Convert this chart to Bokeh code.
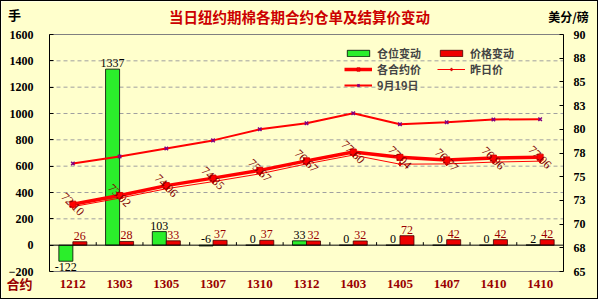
import numpy as np
from bokeh.plotting import figure
from bokeh.models import (Range1d, LinearAxis, FixedTicker, Label, Legend, LegendItem)
from bokeh.core.properties import value
from bokeh.embed import file_html
from bokeh.resources import INLINE

# ---------------- data ----------------
categories = ["1212", "1303", "1305", "1307", "1310", "1312", "1403", "1405", "1407", "1410", "1410"]
position_change = [-122, 1337, 103, -6, 0, 33, 0, 0, 0, 0, 2]
price_change = [26, 28, 33, 37, 37, 32, 32, 72, 42, 42, 42]
settle_today = [72.10, 73.02, 74.06, 74.85, 75.67, 76.67, 77.60, 77.04, 76.77, 76.96, 77.06]
settle_yesterday = [71.84, 72.74, 73.73, 74.48, 75.30, 76.35, 77.28, 76.32, 76.35, 76.54, 76.64]
settle_sep19 = [76.40, 77.13, 77.98, 78.83, 80.00, 80.64, 81.70, 80.53, 80.74, 81.04, 81.06]
left_ticks = [-200, 0, 200, 400, 600, 800, 1000, 1200, 1400, 1600]
right_ticks = [65, 67.5, 70, 72.5, 75, 77.5, 80, 82.5, 85, 87.5, 90]
right_tick_labels = ["65", "68", "70", "73", "75", "78", "80", "83", "85", "88", "90"]

title_text = "当日纽约期棉各期合约仓单及结算价变动"
left_unit = "手"
right_unit = "美分/磅"
x_name = "合约"

# ---------------- style ----------------
BG = "#FFFFCC"
W, H = 598, 299
PL, PR, PT, PB = 48, 562, 33, 270  # plot-area edges in canvas px
SERIF = "Liberation Serif"
CJK = "Noto Sans CJK SC"
DARKRED = "#990000"

n = len(categories)
xs = np.arange(n) + 0.5
bw = 0.3

# ranges extended so that the whole canvas is the frame
ymin, ymax = left_ticks[0], left_ticks[-1]
rmin, rmax = right_ticks[0], right_ticks[-1]
sx = (PR - PL) / n
sy = (PB - PT) / (ymax - ymin)
sr = (PB - PT) / (rmax - rmin)
x_start, x_end = -PL / sx, n + (W - PR) / sx
y_start, y_end = ymin - (H - PB) / sy, ymax + PT / sy
r_start, r_end = rmin - (H - PB) / sr, rmax + PT / sr


def px2x(px):
    return x_start + px / sx


def px2y(py):
    return y_start + (H - py) / sy


p = figure(width=W, height=H, output_backend="svg", toolbar_location=None, title=None,
           x_range=Range1d(x_start, x_end), y_range=Range1d(y_start, y_end),
           min_border=0, min_border_left=0, min_border_right=0, min_border_top=0,
           min_border_bottom=0,
           background_fill_color=BG, border_fill_color=BG)
p.styles = {"border": "1px solid black"}
p.outline_line_color = None
p.extra_y_ranges = {"right": Range1d(r_start, r_end)}
p.xgrid.visible = False
p.ygrid.visible = False

# plot-area top/bottom border and dashed grid
p.segment(x0=[0, 0], y0=[ymin, ymax], x1=[n, n], y1=[ymin, ymax],
          line_color="#808080", line_width=1)
inner = [t for t in left_ticks if t not in (0, ymin, ymax)]
p.segment(x0=[0] * len(inner), y0=inner, x1=[n] * len(inner), y1=inner,
          line_color="#A0A0A0", line_width=1, line_dash="4 3")

# x axis (category labels)
xa = p.xaxis[0]
xa.fixed_location = ymin
xa.ticker = FixedTicker(ticks=list(xs))
xa.major_label_overrides = {float(x): c for x, c in zip(xs, categories)}
xa.axis_line_color = None
xa.major_tick_line_color = None
xa.minor_tick_line_color = None
xa.major_label_standoff = 2
xa.major_label_text_font = SERIF
xa.major_label_text_font_style = "bold"
xa.major_label_text_font_size = "13px"
xa.major_label_text_color = DARKRED

# left axis
ya = p.yaxis[0]
ya.fixed_location = 0
ya.bounds = (ymin, ymax)
ya.ticker = FixedTicker(ticks=left_ticks)
ya.axis_line_color = "black"
ya.major_tick_out = 0
ya.major_tick_in = 4
ya.minor_tick_line_color = None
ya.major_label_standoff = 16
ya.major_label_text_font = SERIF
ya.major_label_text_font_style = "bold"
ya.major_label_text_font_size = "12px"
ya.major_label_text_color = "black"

# right axis
ra = LinearAxis(y_range_name="right", ticker=FixedTicker(ticks=right_ticks),
                major_label_overrides={(int(t) if t == int(t) else t): l
                                       for t, l in zip(right_ticks, right_tick_labels)})
ra.fixed_location = n
ra.bounds = (rmin, rmax)
ra.axis_line_color = "black"
ra.major_tick_out = 0
ra.major_tick_in = 4
ra.minor_tick_line_color = None
ra.major_label_standoff = 10
ra.major_label_text_font = SERIF
ra.major_label_text_font_style = "bold"
ra.major_label_text_font_size = "12px"
ra.major_label_text_color = "black"
p.add_layout(ra, "right")

# bars
gbar = p.vbar(x=xs - bw / 2, top=position_change, bottom=0, width=bw,
              fill_color="#2BEE2B", line_color="black", line_width=0.8)
rbar = p.vbar(x=xs + bw / 2, top=price_change, bottom=0, width=bw,
              fill_color="#EE0000", line_color="#400000", line_width=0.8)

# zero line and category ticks
p.segment(x0=[0], y0=[0], x1=[n], y1=[0], line_color="black", line_width=1)
bounds = np.arange(1, n)
tick_h = 3 / sy
p.segment(x0=bounds, y0=0, x1=bounds, y1=tick_h, line_color="black", line_width=1)

# lines
sep_line = p.line(xs, settle_sep19, y_range_name="right", line_color="#FF0000", line_width=2)
sep_mk = p.scatter(xs, settle_sep19, y_range_name="right", marker="x", size=5,
                   line_color="#800080", line_width=1.5)
yest_line = p.line(xs, settle_yesterday, y_range_name="right", line_color="#FF0000", line_width=1)
yest_mk = p.scatter(xs, settle_yesterday, y_range_name="right", marker="diamond", size=4,
                    fill_color="#FF0000", line_color="#CC0000")
today_line = p.line(xs, settle_today, y_range_name="right", line_color="#FF0000", line_width=3.5)
today_mk = p.scatter(xs, settle_today, y_range_name="right", marker="square", size=6,
                     fill_color="#FF0000", line_color="#DD0000")

# price labels (rotated)
p.text(x=xs, y=settle_today, text=[f"{v:.2f}" for v in settle_today], y_range_name="right",
       angle=-45, angle_units="deg", text_align="center", text_baseline="middle",
       text_font=value(SERIF), text_font_size="12px", text_color="#800000")

# bar labels
g_above = [v > -50 for v in position_change]
g_y = [max(v, 0) if a else v for v, a in zip(position_change, g_above)]
pad = 2 / sy
xa_list = list(xs - bw / 2)
up_x = [x for x, a in zip(xa_list, g_above) if a]
up_y = [y + pad for y, a in zip(g_y, g_above) if a]
up_t = [str(v) for v, a in zip(position_change, g_above) if a]
dn_x = [x for x, a in zip(xa_list, g_above) if not a]
dn_y = [y - pad for y, a in zip(g_y, g_above) if not a]
dn_t = [str(v) for v, a in zip(position_change, g_above) if not a]
p.text(x=up_x, y=up_y, text=up_t, text_align="center", text_baseline="bottom",
       text_font=value(SERIF), text_font_size="12px", text_color="black")
p.text(x=dn_x, y=dn_y, text=dn_t, text_align="center", text_baseline="top",
       text_font=value(SERIF), text_font_size="12px", text_color="black")
p.text(x=list(xs + bw / 2), y=[v + pad for v in price_change], text=[str(v) for v in price_change],
       text_align="center", text_baseline="bottom",
       text_font=value(SERIF), text_font_size="12px", text_color=DARKRED)


# legends
def mk_legend(items, vx, top, rows):
    row_h = 16
    vy = H - (top + rows * row_h)
    return Legend(items=items, location=(vx, vy), orientation="vertical",
                  padding=0, margin=0, spacing=0, glyph_width=28, glyph_height=8,
                  label_height=row_h, label_standoff=5,
                  label_text_font=CJK, label_text_font_style="bold", label_text_font_size="11px",
                  background_fill_alpha=0, border_line_color=None)


legA = mk_legend([LegendItem(label="仓位变动", renderers=[gbar]),
                  LegendItem(label="各合约价", renderers=[today_line, today_mk]),
                  LegendItem(label="9月19日", renderers=[sep_line, sep_mk])], 343, 44, 3)
legB = mk_legend([LegendItem(label="价格变动", renderers=[rbar]),
                  LegendItem(label="昨日价", renderers=[yest_line, yest_mk])], 436, 44, 2)
p.add_layout(legA)
p.add_layout(legB)


# free texts
def txt(text, cx, cy, size, color):
    return Label(x=px2x(cx), y=px2y(cy), text=text, text_align="center",
                 text_baseline="middle", text_font=CJK, text_font_style="bold",
                 text_font_size=size, text_color=color)


p.add_layout(txt(title_text, 298, 15, "14.5px", "#CC0000"))
p.add_layout(txt(left_unit, 13, 13, "13px", "black"))
p.add_layout(txt(right_unit, 567, 15, "12px", "black"))
p.add_layout(txt(x_name, 18, 282, "13px", DARKRED))

open("out.html", "w").write(file_html(p, INLINE))
